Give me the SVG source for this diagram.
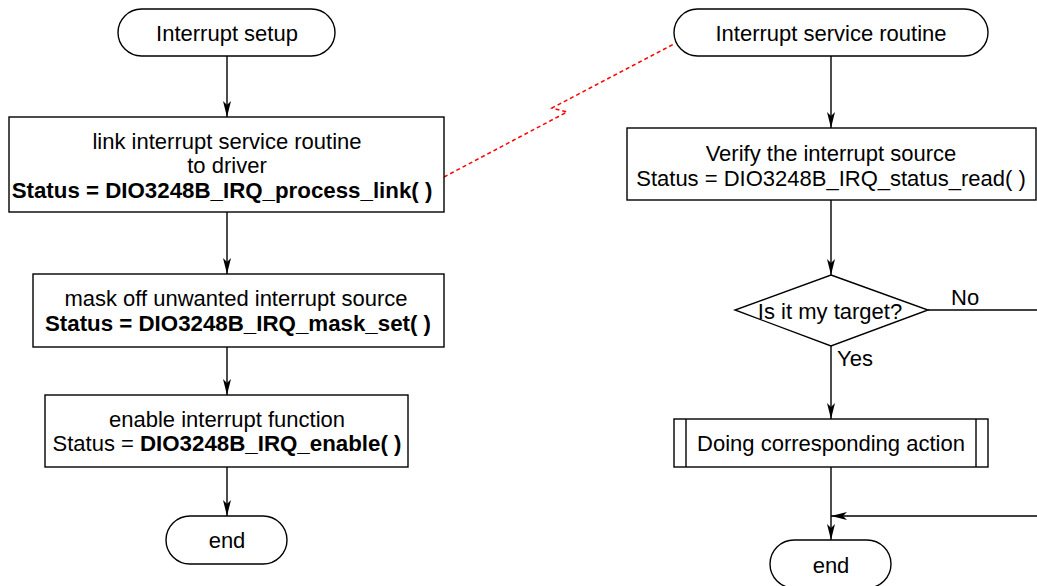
<svg xmlns="http://www.w3.org/2000/svg" width="1037" height="586" viewBox="0 0 1037 586">
<style>
.s{fill:#fff;stroke:#000;stroke-width:1.4}
.t{font-family:"Liberation Sans",Arial,sans-serif;font-size:22px;fill:#000;text-anchor:middle}
.b{font-weight:bold;font-size:22.3px}
.c{fill:none;stroke:#000;stroke-width:1.4}
.r{fill:none;stroke:#ff0000;stroke-width:1.5;stroke-dasharray:4 3}
</style>
<defs>
<marker id="arr" viewBox="0 0 16 10" refX="16" refY="5" markerWidth="16" markerHeight="10" orient="auto" markerUnits="userSpaceOnUse">
<path d="M0,1 L16,5 L0,9 L4,5 Z" fill="#000"/>
</marker>
</defs>
<rect width="1037" height="586" fill="#fff"/>
<g id="connectors">
<line class="c" x1="227" y1="56" x2="227" y2="117" marker-end="url(#arr)"/>
<line class="c" x1="227" y1="212" x2="227" y2="274" marker-end="url(#arr)"/>
<line class="c" x1="227" y1="347" x2="227" y2="395" marker-end="url(#arr)"/>
<line class="c" x1="227" y1="467" x2="227" y2="516" marker-end="url(#arr)"/>
<line class="c" x1="831" y1="56" x2="831" y2="128" marker-end="url(#arr)"/>
<line class="c" x1="831" y1="200" x2="831" y2="275" marker-end="url(#arr)"/>
<line class="c" x1="831" y1="346" x2="831" y2="419" marker-end="url(#arr)"/>
<line class="c" x1="831" y1="467" x2="831" y2="540" marker-end="url(#arr)"/>
<line class="c" x1="928" y1="310" x2="1037" y2="310"/>
<line class="c" x1="1037" y1="516" x2="831" y2="516" marker-end="url(#arr)"/>
<polyline class="r" points="444,177 567,112 552,108 674,44"/>
<text class="t" x="951" y="305" style="text-anchor:start">No</text>
<text class="t" x="837" y="366" style="text-anchor:start">Yes</text>
</g>
<g id="setup">
<rect class="s" x="118" y="9" width="217" height="47" rx="23.5"/>
<text class="t" x="227" y="41">Interrupt setup</text>
</g>
<g id="link">
<rect class="s" x="9" y="117" width="435" height="95"/>
<text class="t" x="227" y="149">link interrupt service routine</text>
<text class="t" x="227" y="173">to driver</text>
<text class="t b" x="222" y="198">Status = DIO3248B_IRQ_process_link( )</text>
</g>
<g id="mask">
<rect class="s" x="33" y="274" width="411" height="73"/>
<text class="t" x="236" y="306">mask off unwanted interrupt source</text>
<text class="t b" x="238" y="331">Status = DIO3248B_IRQ_mask_set( )</text>
</g>
<g id="enable">
<rect class="s" x="45" y="395" width="363" height="72"/>
<text class="t" x="227" y="427">enable interrupt function</text>
<text class="t" x="227" y="451">Status = <tspan class="b">DIO3248B_IRQ_enable( )</tspan></text>
</g>
<g id="end1">
<rect class="s" x="166" y="516" width="121" height="48" rx="24"/>
<text class="t" x="227" y="548">end</text>
</g>
<g id="isr">
<rect class="s" x="674" y="9" width="314" height="47" rx="23.5"/>
<text class="t" x="831" y="41">Interrupt service routine</text>
</g>
<g id="verify">
<rect class="s" x="627" y="128" width="409" height="72"/>
<text class="t" x="831" y="161">Verify the interrupt source</text>
<text class="t" x="831" y="186">Status = DIO3248B_IRQ_status_read( )</text>
</g>
<g id="decision">
<polygon class="s" points="831,275 928,310 831,346 735,310"/>
<text class="t" x="830" y="319">Is it my target?</text>
</g>
<g id="action">
<rect class="s" x="674" y="419" width="314" height="48"/>
<line class="c" x1="686" y1="419" x2="686" y2="467"/>
<line class="c" x1="976" y1="419" x2="976" y2="467"/>
<text class="t" x="831" y="451">Doing corresponding action</text>
</g>
<g id="end2">
<rect class="s" x="770" y="540" width="121" height="48" rx="24"/>
<text class="t" x="831" y="573">end</text>
</g>
</svg>
